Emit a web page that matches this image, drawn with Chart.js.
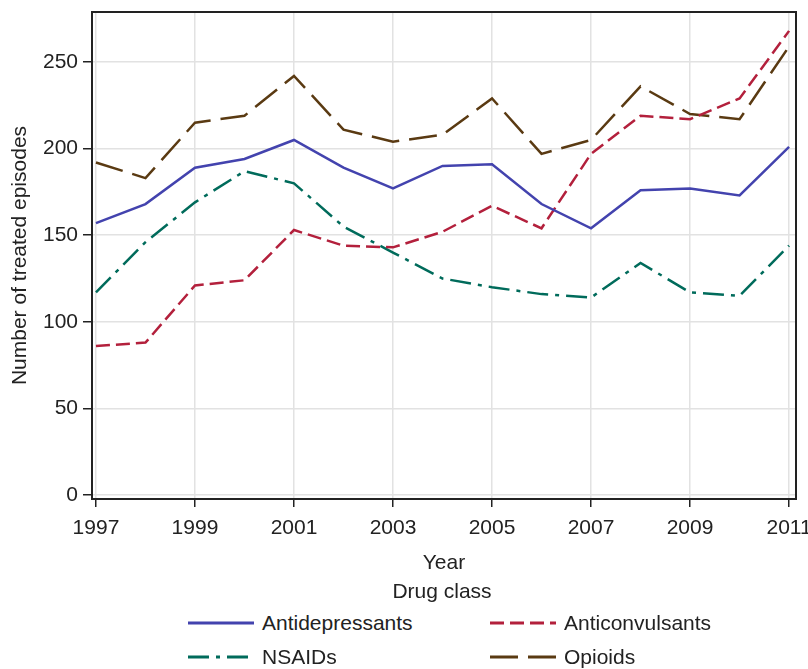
<!DOCTYPE html>
<html>
<head>
<meta charset="utf-8">
<script src="https://cdn.jsdelivr.net/npm/chart.js@4/dist/chart.umd.min.js"></script>
<style>
  html, body { margin: 0; padding: 0; background: #fff; }
  body { width: 808px; height: 669px; overflow: hidden; position: relative;
         font-family: "Liberation Sans", Arial, sans-serif; color: #222; }
  #wrap { position: absolute; left: 0; top: 0; width: 808px; height: 580px; }
  #legend-title { position: absolute; left: 0; width: 884px; top: 578px; text-align: center;
                  font-size: 21px; line-height: 26px; }
  #legend { position: absolute; left: 188px; top: 606px; display: grid;
            grid-template-columns: 302px 260px; grid-auto-rows: 34px; font-size: 21px; }
  .item { display: flex; align-items: center; }
  .item canvas { width: 66px; height: 14px; margin-right: 8px; }
</style>
</head>
<body>
<div id="wrap"><canvas id="trend-chart"></canvas></div>
<div id="legend-title">Drug class</div>
<div id="legend"></div>
<script>
const years = [1997, 1998, 1999, 2000, 2001, 2002, 2003, 2004, 2005, 2006, 2007, 2008, 2009, 2010, 2011];
const antidepressants = [157, 168, 189, 194, 205, 189, 177, 190, 191, 168, 154, 176, 177, 173, 201];
const anticonvulsants = [86, 88, 121, 124, 153, 144, 143, 152, 167, 154, 197, 219, 217, 229, 268];
const nsaids = [117, 146, 169, 187, 180, 155, 140, 125, 120, 116, 114, 134, 117, 115, 144];
const opioids = [192, 183, 215, 219, 242, 211, 204, 208, 229, 197, 205, 236, 220, 217, 259];
const xTicks = [1997, 1999, 2001, 2003, 2005, 2007, 2009, 2011];
const yTicks = [0, 50, 100, 150, 200, 250];

const series = [
  { label: 'Antidepressants', values: antidepressants, color: '#4343ae', dash: [] },
  { label: 'Anticonvulsants', values: anticonvulsants, color: '#b3203c', dash: [14, 6] },
  { label: 'NSAIDs', values: nsaids, color: '#006b5b', dash: [21, 7, 4, 7] },
  { label: 'Opioids', values: opioids, color: '#5a3a12', dash: [28, 10] }
];

const font = { family: '"Liberation Sans", Arial, sans-serif', size: 21 };

// box around the plot region
const frame = {
  id: 'frame',
  afterDraw(chart) {
    const a = chart.chartArea;
    const ctx = chart.ctx;
    ctx.save();
    ctx.strokeStyle = '#222';
    ctx.lineWidth = 2;
    ctx.strokeRect(a.left, a.top, a.right - a.left, a.bottom - a.top);
    ctx.restore();
  }
};

const chart = new Chart(document.getElementById('trend-chart'), {
  type: 'line',
  data: {
    datasets: series.map(s => ({
      label: s.label,
      data: years.map((y, i) => ({ x: y, y: s.values[i] })),
      borderColor: s.color,
      backgroundColor: s.color,
      borderWidth: 2.5,
      borderDash: s.dash,
      pointRadius: 0,
      tension: 0,
      fill: false
    }))
  },
  options: {
    responsive: true,
    maintainAspectRatio: false,
    animation: false,
    layout: { padding: 0 },
    plugins: {
      legend: { display: false },
      tooltip: { enabled: false }
    },
    scales: {
      x: {
        type: 'linear',
        min: 1996.92,
        max: 2011.14,
        afterBuildTicks(axis) { axis.ticks = xTicks.map(v => ({ value: v })); },
        afterFit(axis) { axis.height = 81; axis.paddingRight = 12; axis.paddingLeft = 0; },
        grid: { color: '#e2e2e2', lineWidth: 1.5, tickColor: '#222', tickLength: 8, tickWidth: 1.5 },
        border: { color: '#222', width: 2 },
        ticks: { color: '#222', font, padding: 9, maxRotation: 0, callback: v => String(v) },
        title: { display: true, text: 'Year', color: '#222', font, padding: { top: 4, bottom: 4 } }
      },
      y: {
        min: -2.3,
        max: 278.9,
        afterBuildTicks(axis) { axis.ticks = yTicks.map(v => ({ value: v })); },
        afterFit(axis) { axis.width = 92; axis.paddingTop = 12; axis.paddingBottom = 0; },
        grid: { color: '#e2e2e2', lineWidth: 1.5, tickColor: '#222', tickLength: 9, tickWidth: 1.5 },
        border: { color: '#222', width: 2 },
        ticks: { color: '#222', font, padding: 5 },
        title: { display: true, text: 'Number of treated episodes', color: '#222', font, padding: { top: 8, bottom: 4 } }
      }
    }
  },
  plugins: [frame]
});

// two-column legend under the chart
const legend = document.getElementById('legend');
chart.data.datasets.forEach(ds => {
  const item = document.createElement('div');
  item.className = 'item';
  const sw = document.createElement('canvas');
  sw.width = 66; sw.height = 14;
  const c = sw.getContext('2d');
  c.strokeStyle = ds.borderColor;
  c.lineWidth = 3;
  c.setLineDash(ds.borderDash);
  c.beginPath(); c.moveTo(0, 7); c.lineTo(66, 7); c.stroke();
  const txt = document.createElement('span');
  txt.textContent = ds.label;
  item.appendChild(sw);
  item.appendChild(txt);
  legend.appendChild(item);
});
</script>
</body>
</html>
